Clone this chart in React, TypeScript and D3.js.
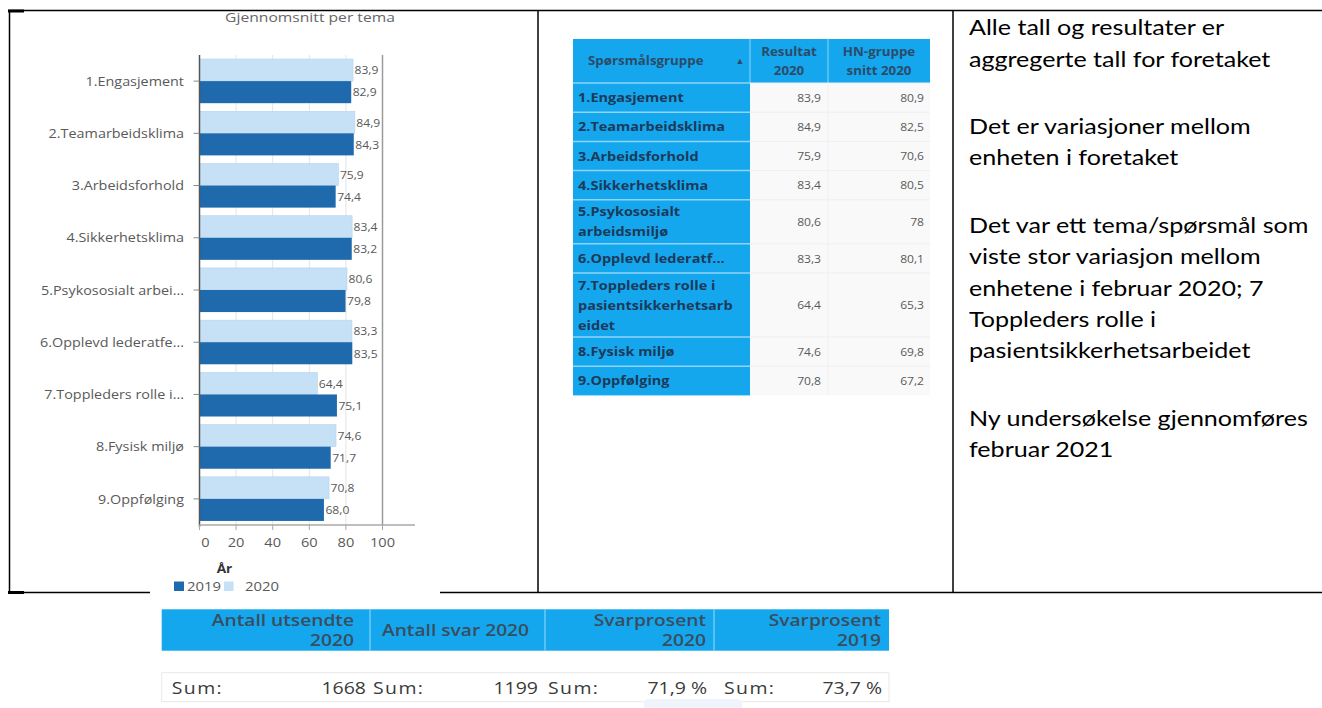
import React from 'react';
import * as d3 from 'd3';

// ---------- data ----------
const categories = [
  '1.Engasjement',
  '2.Teamarbeidsklima',
  '3.Arbeidsforhold',
  '4.Sikkerhetsklima',
  '5.Psykososialt arbei...',
  '6.Opplevd lederatfe...',
  '7.Toppleders rolle i...',
  '8.Fysisk miljø',
  '9.Oppfølging',
];
const values2020 = [83.9, 84.9, 75.9, 83.4, 80.6, 83.3, 64.4, 74.6, 70.8];
const values2019 = [82.9, 84.3, 74.4, 83.2, 79.8, 83.5, 75.1, 71.7, 68.0];
const xTicks = [0, 20, 40, 60, 80, 100];
const seriesNames = ['2019', '2020'];
const chartTitle = 'Gjennomsnitt per tema';
const xAxisTitle = 'År';

const tableHeader = [['Spørsmålsgruppe'], ['Resultat', '2020'], ['HN-gruppe', 'snitt 2020']];
const tableGroups = [
  ['1.Engasjement'],
  ['2.Teamarbeidsklima'],
  ['3.Arbeidsforhold'],
  ['4.Sikkerhetsklima'],
  ['5.Psykososialt', 'arbeidsmiljø'],
  ['6.Opplevd lederatf...'],
  ['7.Toppleders rolle i', 'pasientsikkerhetsarb', 'eidet'],
  ['8.Fysisk miljø'],
  ['9.Oppfølging'],
];
const tableResult2020 = [83.9, 84.9, 75.9, 83.4, 80.6, 83.3, 64.4, 74.6, 70.8];
const tableHN2020 = [80.9, 82.5, 70.6, 80.5, 78, 80.1, 65.3, 69.8, 67.2];

const summaryHeaders = [['Antall utsendte', '2020'], ['Antall svar 2020'], ['Svarprosent', '2020'], ['Svarprosent', '2019']];
const summaryValues = ['1668', '1199', '71,9 %', '73,7 %'];

const notes = [
  ['Alle tall og resultater er', 'aggregerte tall for foretaket'],
  ['Det er variasjoner mellom', 'enheten i foretaket'],
  ['Det var ett tema/spørsmål som', 'viste stor variasjon mellom', 'enhetene i februar 2020; 7', 'Toppleders rolle i', 'pasientsikkerhetsarbeidet'],
  ['Ny undersøkelse gjennomføres', 'februar 2021'],
];

// ---------- styles ----------
const OPEN = "'Open Sans', 'Noto Sans', sans-serif";
const LATO = "Lato, 'Open Sans', sans-serif";
const SX = 1.16; // horizontal stretch of the source screenshot
const BLUE = '#14a7ee';
const DARK = '#1f6aad';
const LIGHT = '#c6e0f6';
const GREY_TXT = '#595959';

const nb = d3.formatLocale({ decimal: ',', thousands: ' ', grouping: [3], currency: ['', ''] });
const f1 = nb.format('.1f');
const fTable = (v: number) => (Number.isInteger(v) ? String(v) : f1(v));

type TP = {
  x: number; y: number; sx?: number; anchor?: string; size: number; weight?: number;
  fill?: string; family?: string; ls?: number; children: React.ReactNode;
};
function T({ x, y, sx = SX, anchor = 'start', size, weight = 400, fill = '#000', family = OPEN, ls = 0, children }: TP) {
  return (
    <text
      transform={`translate(${x},${y}) scale(${sx},1)`}
      textAnchor={anchor as any}
      dominantBaseline="central"
      fontSize={size}
      fontWeight={weight}
      fill={fill}
      fontFamily={family}
      letterSpacing={ls}
    >
      {children}
    </text>
  );
}

function BarChart() {
  const x = d3.scaleLinear().domain([0, 100]).range([199.5, 382.5]);
  const y = d3.scaleBand<string>().domain(categories).range([55, 525]).paddingInner(0.155).paddingOuter(0.0775);
  const sub = d3.scaleBand<string>().domain(['2020', '2019']).range([0, y.bandwidth()]);
  const x0 = x(0);
  const axisY = 525;
  return (
    <g clipPath="url(#chartClip)">
      <T x={310} y={16.5} size={13.5} fill="#666" anchor="middle">{chartTitle}</T>
      {/* gridlines */}
      {xTicks.filter((t) => t > 0 && t < 100).map((t) => (
        <line key={t} x1={x(t)} x2={x(t)} y1={55} y2={axisY} stroke="#e4e4e4" strokeWidth={1} />
      ))}
      <line x1={x(100)} x2={x(100)} y1={55} y2={axisY} stroke="#9a9a9a" strokeWidth={1.5} />
      {/* bars */}
      {categories.map((c, i) => {
        const by = y(c)!;
        const v20 = values2020[i];
        const v19 = values2019[i];
        const yl = by + sub('2020')!;
        const yd = by + sub('2019')!;
        const h = sub.bandwidth();
        return (
          <g key={c}>
            <rect x={x0} y={yl} width={x(v20) - x0} height={h} fill={LIGHT} stroke="#b3d3ef" strokeWidth={0.6} />
            <rect x={x0} y={yd} width={x(v19) - x0} height={h} fill={DARK} />
            <T x={x(v20) + 1.5} y={yl + h / 2} size={11} sx={1.1} fill={GREY_TXT}>{f1(v20)}</T>
            <T x={x(v19) + 1.5} y={yd + h / 2} size={11} sx={1.1} fill={GREY_TXT}>{f1(v19)}</T>
          </g>
        );
      })}
      {/* y axis */}
      <line x1={x0} x2={x0} y1={55} y2={axisY + 2} stroke="#555" strokeWidth={1.5} />
      {categories.map((c) => {
        const cy = y(c)! + y.bandwidth() / 2;
        return (
          <g key={c}>
            <line x1={x0 - 6} x2={x0} y1={cy} y2={cy} stroke="#888" strokeWidth={1} />
            <T x={184} y={cy} size={12.5} fill={GREY_TXT} anchor="end" sx={1.15}>{c}</T>
          </g>
        );
      })}
      {/* x axis */}
      <line x1={x0} x2={415} y1={axisY} y2={axisY} stroke="#a8a8a8" strokeWidth={1.5} />
      {xTicks.map((t) => (
        <g key={t}>
          <line x1={x(t)} x2={x(t)} y1={axisY} y2={axisY + 5} stroke="#a8a8a8" strokeWidth={1} />
          <T x={x(t) + (t === 0 ? 6 : 0)} y={542} size={13.5} sx={1.08} fill={GREY_TXT} anchor="middle">{String(t)}</T>
        </g>
      ))}
      <T x={224.5} y={568} size={13} weight={700} fill="#333" anchor="middle" sx={1.05}>{xAxisTitle}</T>
      {/* legend */}
      <rect x={174} y={581.5} width={10} height={9.5} fill={DARK} />
      <T x={187} y={586} size={13.5} sx={1.1} fill={GREY_TXT}>{seriesNames[0]}</T>
      <rect x={224} y={581.5} width={9.5} height={9.5} fill={LIGHT} />
      <T x={245} y={586} size={13.5} sx={1.1} fill={GREY_TXT}>{seriesNames[1]}</T>
    </g>
  );
}

function GroupTable() {
  const cols = [573, 750, 828, 930];
  const rowH = (n: number) => (n === 1 ? 29.2 : 4 + 20 * n);
  const top = 39;
  const headH = rowH(2);
  let cur = top + headH;
  const rows = tableGroups.map((g, i) => {
    const h = rowH(g.length);
    const r = { y: cur, h, lines: g, res: tableResult2020[i], hn: tableHN2020[i] };
    cur += h;
    return r;
  });
  const bottom = cur;
  return (
    <g>
      <rect x={cols[0]} y={top} width={cols[3] - cols[0]} height={headH} fill={BLUE} />
      <rect x={cols[0]} y={top + headH} width={cols[1] - cols[0]} height={bottom - top - headH} fill={BLUE} />
      <rect x={cols[1]} y={top + headH} width={cols[3] - cols[1]} height={bottom - top - headH} fill="#f9f9f9" />
      <line x1={cols[2]} x2={cols[2]} y1={top + headH} y2={bottom} stroke="#f0f0f0" strokeWidth={1} />
      <line x1={cols[1]} x2={cols[1]} y1={top} y2={top + headH} stroke="#8fd4f7" strokeWidth={1} />
      <line x1={cols[2]} x2={cols[2]} y1={top} y2={top + headH} stroke="#8fd4f7" strokeWidth={1} />
      {/* header text */}
      <T x={588} y={top + headH / 2} size={11.5} weight={700} fill="#2c4b69">{tableHeader[0][0]}</T>
      <text x={740} y={top + headH / 2} dominantBaseline="central" textAnchor="middle" fontSize={9} fill="#2c4b69">▲</text>
      {tableHeader.slice(1).map((lines, k) => {
        const cx = (cols[k + 1] + cols[k + 2]) / 2;
        return lines.map((l, j) => (
          <T key={`${k}-${j}`} x={cx} y={top + headH / 2 + (j - (lines.length - 1) / 2) * 19} size={11.5} weight={700} fill="#2c4b69" anchor="middle">{l}</T>
        ));
      })}
      {rows.map((r, i) => {
        const cy = r.y + r.h / 2;
        return (
          <g key={i}>
            <line x1={cols[0]} x2={cols[1]} y1={r.y} y2={r.y} stroke="#8fd4f7" strokeWidth={1.5} />
            <line x1={cols[1]} x2={cols[3]} y1={r.y} y2={r.y} stroke="#efefef" strokeWidth={1} />
            {r.lines.map((l, j) => (
              <T key={j} x={578} y={cy + (j - (r.lines.length - 1) / 2) * 20} size={12.5} weight={700} fill="#1c3a5a">{l}</T>
            ))}
            <T x={cols[2] - 7} y={cy} size={11} fill={GREY_TXT} anchor="end" sx={1.1}>{fTable(r.res)}</T>
            <T x={cols[3] - 6} y={cy} size={11} fill={GREY_TXT} anchor="end" sx={1.1}>{fTable(r.hn)}</T>
          </g>
        );
      })}
    </g>
  );
}

function SummaryTable() {
  const cols = [161.7, 370, 545, 714, 889];
  const hTop = 609.3;
  const hBot = 650.7;
  const sTop = 672.7;
  const sBot = 701.7;
  const sumPad = [10, 3, 3, 10];
  return (
    <g>
      <rect x={cols[0]} y={hTop} width={cols[4] - cols[0]} height={hBot - hTop} fill={BLUE} />
      {cols.slice(1, 4).map((c) => (
        <line key={c} x1={c} x2={c} y1={hTop} y2={hBot} stroke="#9ddaf8" strokeWidth={1} />
      ))}
      {summaryHeaders.map((lines, k) => {
        const cy = (hTop + hBot) / 2;
        if (lines.length === 1) {
          return (
            <T key={k} x={(cols[k] + cols[k + 1]) / 2 - 2} y={cy} size={16} sx={1.2} weight={600} fill="#3a4d60" anchor="middle">{lines[0]}</T>
          );
        }
        const rx = cols[k + 1] - (k === 0 ? 16 : 8);
        return lines.map((l, j) => (
          <T key={`${k}-${j}`} x={rx} y={cy + (j - 0.5) * 20} size={16} sx={1.2} weight={600} fill="#3a4d60" anchor="end">{l}</T>
        ));
      })}
      <rect x={cols[0]} y={sTop} width={cols[4] - cols[0]} height={sBot - sTop} fill="#fff" stroke="#e8e8e8" strokeWidth={1} />
      {summaryValues.map((v, k) => {
        const cy = (sTop + sBot) / 2;
        return (
          <g key={k}>
            <T x={cols[k] + sumPad[k]} y={cy} size={16.5} sx={1.18} ls={1.2} fill="#3a3a3a">Sum:</T>
            <T x={cols[k + 1] - (k === 0 ? 4 : 7)} y={cy} size={16.5} sx={1.18} fill="#3a3a3a" anchor="end">{v}</T>
          </g>
        );
      })}
      <path d="M 644 708 L 644 702 Q 644 699 650 699 L 736 699 Q 742 699 742 702 L 742 708 Z" fill="#eef3fc" />
    </g>
  );
}

function Notes() {
  const lineStep = 31.3;
  const paraStep = 67.5;
  let yy = 27;
  const out: React.ReactNode[] = [];
  notes.forEach((p, i) => {
    p.forEach((l, j) => {
      out.push(
        <T key={`${i}-${j}`} x={969} y={yy} size={22} sx={1.14} family={LATO} fill="#000">{l}</T>
      );
      if (j < p.length - 1) yy += lineStep;
    });
    yy += paraStep;
  });
  return <g>{out}</g>;
}

export default function App() {
  return (
    <div style={{ position: 'absolute', left: 0, top: 0, width: 1322, height: 708, background: '#fff' }}>
      <svg width={1322} height={708} style={{ display: 'block' }}>
        <defs>
          <clipPath id="chartClip">
            <rect x={10} y={12.5} width={527} height={580} />
          </clipPath>
        </defs>
        <rect width={1322} height={708} fill="#fff" />
        <BarChart />
        <GroupTable />
        <SummaryTable />
        <Notes />
        {/* frame lines */}
        <g stroke="#000" strokeWidth={1.5}>
          <line x1={8} x2={1322} y1={10.5} y2={10.5} />
          <line x1={9.5} x2={9.5} y1={10} y2={592.5} />
          <line x1={538} x2={538} y1={10} y2={592.5} />
          <line x1={953} x2={953} y1={10} y2={592.5} />
          <line x1={8} x2={150} y1={592.5} y2={592.5} />
          <line x1={440} x2={1322} y1={592.5} y2={592.5} />
        </g>
        <rect x={8} y={9.5} width={16} height={3} fill="#000" />
        <rect x={8} y={591} width={16} height={3} fill="#000" />
      </svg>
    </div>
  );
}
